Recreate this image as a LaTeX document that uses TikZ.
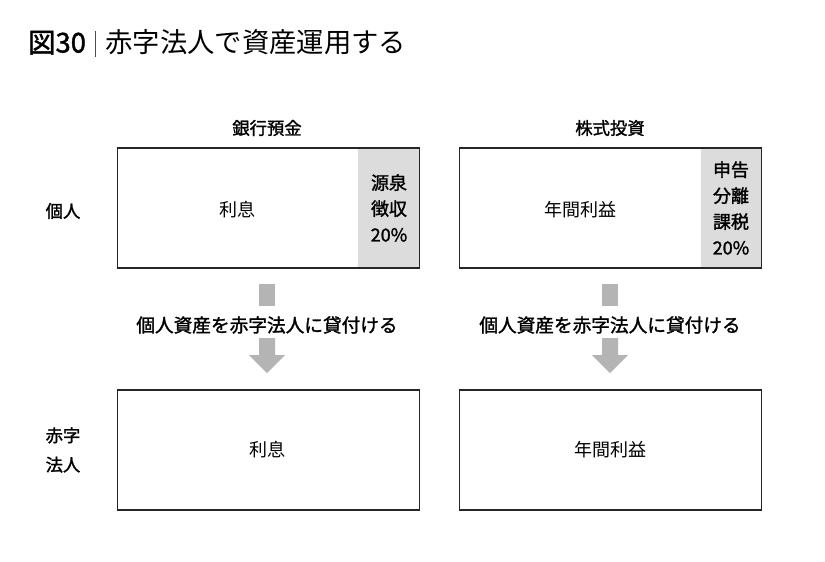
\documentclass[tikz,border=0pt]{standalone}
\usepackage{fontspec}
\setmainfont{Noto Sans CJK JP}
\newfontfamily\jpb[FakeBold=1.5]{Noto Sans CJK JP}
\definecolor{boxgray}{HTML}{DCDCDC}
\definecolor{arrgray}{HTML}{B4B4B4}
\begin{document}
\begin{tikzpicture}[x=0.75pt,y=-0.75pt,
  frame/.style={draw=black!85,line width=0.8pt},
  lbl/.style={font=\jpb\fontsize{13}{15}\selectfont,align=center,inner sep=0pt},
  mlbl/.style={font=\jpb\fontsize{14}{16}\selectfont,align=center,inner sep=0pt},
  txt/.style={font=\fontsize{13.5}{15}\selectfont,align=center,inner sep=0pt},
  gtxt/.style={font=\jpb\fontsize{13.5}{19.5}\selectfont,align=center,inner sep=0pt}]
\useasboundingbox[fill=white] (0,0) rectangle (825,561);
\node[anchor=west,inner sep=0pt] (title) at (28,43) {\jpb\fontsize{20.5}{24}\selectfont 図30\hspace{7pt}\textcolor{black!70}{\rule[-3pt]{0.6pt}{19pt}}\hspace{7pt}\fontspec{Noto Sans CJK JP}赤字法人で資産運用する};
\node[lbl] (h1) at (267,128) {銀行預金};
\node[lbl] (h2) at (610,128) {株式投資};
\node[lbl] (r1) at (63,211) {個人};
\node[lbl,font=\jpb\fontsize{13}{22}\selectfont] (r2) at (63,450) {赤字\\法人};
\fill[boxgray] (358,148) rectangle (420,268);
\fill[boxgray] (701,148) rectangle (762,268);
\node[frame,minimum width=227pt,minimum height=90pt,inner sep=0pt] (b1) at (268.5,208) {};
\node[frame,minimum width=227pt,minimum height=90pt,inner sep=0pt] (b2) at (610.5,208) {};
\node[txt] (t1) at (237,210) {利息};
\node[gtxt] (g1) at (389,208) {源泉\\徴収\\20\%};
\node[txt] (t2) at (580,210) {年間利益};
\node[gtxt] (g2) at (731,208) {申告\\分離\\課税\\20\%};
\foreach \cx/\n in {267/a,610/b}{
  \fill[arrgray] (\cx-8,284) rectangle (\cx+8,306);
  \fill[arrgray] (\cx-8,338) -- (\cx+8,338) -- (\cx+8,355) -- (\cx+18,355) -- (\cx,373) -- (\cx-18,355) -- (\cx-8,355) -- cycle;
  \node[mlbl] (m\n) at (\cx,325) {個人資産を赤字法人に貸付ける};
}
\node[frame,minimum width=227pt,minimum height=90pt,inner sep=0pt] (c1) at (268.5,450) {};
\node[frame,minimum width=227pt,minimum height=90pt,inner sep=0pt] (c2) at (610.5,450) {};
\node[txt] (u1) at (267,450) {利息};
\node[txt] (u2) at (610,450) {年間利益};
\end{tikzpicture}
\end{document}
